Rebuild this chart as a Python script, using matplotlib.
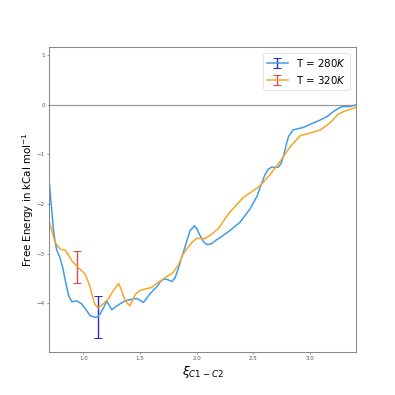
import matplotlib
matplotlib.use("Agg")
import matplotlib.pyplot as plt

# T = 280K (blue)
x280 = [0.70, 0.71, 0.72, 0.735, 0.75, 0.765, 0.795, 0.82, 0.84, 0.87, 0.90, 0.94, 0.985, 1.03, 1.06, 1.10, 1.127, 1.147,
        1.18, 1.206, 1.23, 1.25, 1.29, 1.33, 1.37, 1.42, 1.47, 1.50, 1.53, 1.59, 1.65, 1.68, 1.71,
        1.74, 1.78, 1.81, 1.84, 1.87, 1.90, 1.94, 1.98, 2.00, 2.03, 2.06, 2.09, 2.13, 2.17, 2.21,
        2.29, 2.38, 2.47, 2.53, 2.57, 2.60, 2.63, 2.66, 2.72, 2.745, 2.765, 2.79, 2.81, 2.85,
        2.94, 3.03, 3.09, 3.15, 3.20, 3.24, 3.28, 3.35, 3.40]
y280 = [-1.57, -1.85, -2.10, -2.50, -2.75, -2.93, -3.09, -3.30, -3.54, -3.85, -3.97, -3.95, -4.01, -4.15, -4.25, -4.28, -4.27, -4.21,
        -4.08, -3.95, -4.05, -4.13, -4.06, -4.00, -3.95, -3.92, -3.90, -3.94, -3.98, -3.80, -3.66, -3.56, -3.51,
        -3.52, -3.56, -3.48, -3.28, -3.05, -2.84, -2.54, -2.44, -2.50, -2.64, -2.76, -2.82, -2.80, -2.73, -2.67,
        -2.54, -2.37, -2.10, -1.85, -1.60, -1.42, -1.30, -1.26, -1.26, -1.18, -1.04, -0.80, -0.64, -0.51,
        -0.46, -0.37, -0.31, -0.24, -0.15, -0.09, -0.04, -0.04, -0.01]
err280 = 0.42
err280_x = 1.127

# T = 320K (orange)
x320 = [0.70, 0.75, 0.795, 0.84, 0.88, 0.90, 0.947, 0.97, 1.015, 1.04, 1.06, 1.08, 1.10, 1.127,
        1.15, 1.18, 1.22, 1.265, 1.31, 1.33, 1.37, 1.41, 1.46, 1.50, 1.60, 1.69, 1.79, 1.84, 1.88,
        1.92, 1.96, 2.00, 2.07, 2.13, 2.19, 2.24, 2.29, 2.35, 2.41, 2.50, 2.56, 2.65, 2.74, 2.82,
        2.91, 2.99, 3.09, 3.18, 3.25, 3.32, 3.40]
y320 = [-2.37, -2.77, -2.91, -2.93, -3.07, -3.15, -3.265, -3.31, -3.41, -3.55, -3.68, -3.86, -4.01, -4.09,
        -4.06, -4.00, -3.91, -3.74, -3.60, -3.70, -3.95, -4.05, -3.81, -3.74, -3.68, -3.53, -3.38, -3.22, -3.01,
        -2.88, -2.77, -2.69, -2.70, -2.61, -2.50, -2.33, -2.17, -2.02, -1.87, -1.73, -1.63, -1.40, -1.13, -0.86,
        -0.63, -0.58, -0.51, -0.36, -0.19, -0.12, -0.06]
err320 = 0.325
err320_x = 0.947

xticks = [1.0, 1.5, 2.0, 2.5, 3.0]
yticks = [1, 0, -1, -2, -3, -4]

fig = plt.figure(figsize=(8, 8), dpi=49.375)
ax = fig.add_subplot(111)

i280 = x280.index(err280_x)
i320 = x320.index(err320_x)
yerr280 = [err280] * len(x280)
yerr320 = [err320] * len(x320)

ax.errorbar(x280, y280, yerr=yerr280, errorevery=(i280, len(x280) + 5), color='#3d9be9',
            ecolor='#2a2ad8', elinewidth=2, capsize=6, capthick=1.5, lw=2.2, label='T = 280$K$')
ax.errorbar(x320, y320, yerr=yerr320, errorevery=(i320, len(x320) + 5), color='#f5a623',
            ecolor='#e04848', elinewidth=2, capsize=6, capthick=1.5, lw=2.2, label='T = 320$K$')

ax.axhline(0, color='#999999', lw=1.8, zorder=0)
ax.set_xlim(0.7, 3.4)
ax.set_ylim(-4.97, 1.15)
ax.set_xticks(xticks)
ax.set_yticks(yticks)
ax.tick_params(labelsize=8, colors='#555555', length=3)
for s in ax.spines.values():
    s.set_color('#888888')
    s.set_linewidth(1.5)

ax.set_ylabel('Free Energy in kCal mol$^{-1}$', fontsize=15, labelpad=1)
ax.set_xlabel(r'$\xi_{C1-C2}$', fontsize=18)
ax.legend(loc='upper right', fontsize=15)

fig.savefig('out.png', dpi=49.375)
